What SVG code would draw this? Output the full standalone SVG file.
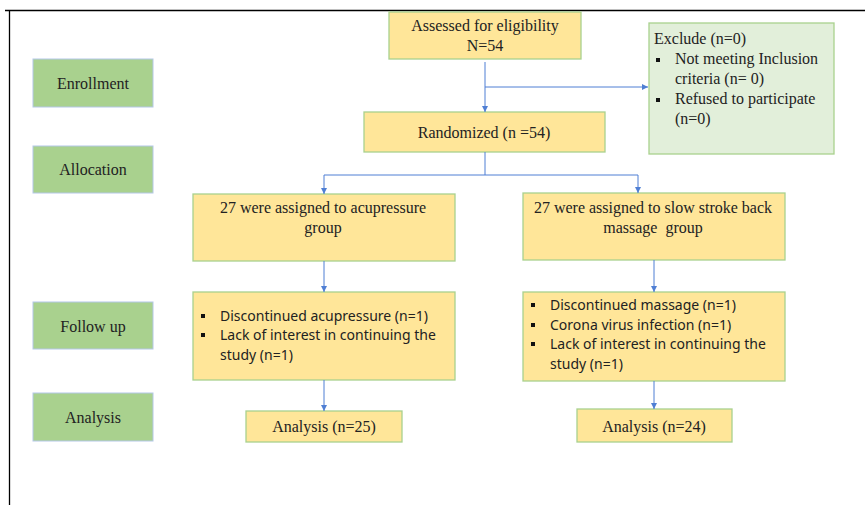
<svg xmlns="http://www.w3.org/2000/svg" width="865" height="505" viewBox="0 0 865 505">
<defs>
<style>
.stage rect{fill:#a9d18e;stroke:#b4c7e7;stroke-width:1}
.box rect{fill:#ffe699;stroke:#a9d18e;stroke-width:1.3}
.ex rect{fill:#e2efda;stroke:#a9d18e;stroke-width:1.3}
g rect.b{fill:#111;stroke:none}
.t{font-family:"Liberation Serif","Times New Roman",serif;font-size:16px;fill:#222}
.c{text-anchor:middle}
.s{font-family:"Noto Sans","Liberation Sans",sans-serif;font-size:14px;fill:#222}
.conn path{fill:none;stroke:#4f7fd4;stroke-width:1}
</style>
<marker id="ah" viewBox="0 0 6 6" refX="6" refY="3" markerWidth="6" markerHeight="6" orient="auto" markerUnits="userSpaceOnUse">
<path d="M0,0 L6,3 L0,6 Z" fill="#4f7fd4"/>
</marker>
</defs>
<rect width="865" height="505" fill="#fff"/>
<path d="M5,10.5 H865 M9.5,10 V505" stroke="#000" stroke-width="1.3" fill="none"/>

<g id="enrollment" class="stage"><rect x="33" y="59" width="120" height="48"/><text class="t c" x="93" y="89">Enrollment</text></g>
<g id="allocation" class="stage"><rect x="33" y="146" width="120" height="47"/><text class="t c" x="93" y="175">Allocation</text></g>
<g id="followup" class="stage"><rect x="33" y="302" width="120" height="47"/><text class="t c" x="93" y="332">Follow up</text></g>
<g id="analysis" class="stage"><rect x="33" y="393" width="120" height="48"/><text class="t c" x="93" y="423">Analysis</text></g>

<g id="assessed" class="box"><rect x="389" y="12" width="192" height="47"/>
<text class="t c" x="485" y="31">Assessed for eligibility</text>
<text class="t c" x="485" y="51">N=54</text></g>

<g id="exclude" class="ex"><rect x="649" y="23" width="185" height="131"/>
<text class="t" x="654" y="44">Exclude (n=0)</text>
<rect class="b" x="656" y="58" width="4" height="4"/>
<text class="t" x="675" y="64">Not meeting Inclusion</text>
<text class="t" x="675" y="84">criteria (n= 0)</text>
<rect class="b" x="656" y="98" width="4" height="4"/>
<text class="t" x="675" y="104">Refused to participate</text>
<text class="t" x="675" y="124">(n=0)</text></g>

<g id="randomized" class="box"><rect x="364" y="112" width="241" height="40"/>
<text class="t c" x="484" y="138">Randomized (n =54)</text></g>

<g id="acu" class="box"><rect x="193" y="194" width="262" height="67"/>
<text class="t c" x="323" y="213">27 were assigned to acupressure</text>
<text class="t c" x="323" y="233">group</text></g>

<g id="massage" class="box"><rect x="523" y="193" width="262" height="67"/>
<text class="t c" x="653" y="213">27 were assigned to slow stroke back</text>
<text class="t c" x="653" y="233" xml:space="preserve">massage  group</text></g>

<g id="acu-follow" class="box"><rect x="193" y="292" width="262" height="88"/>
<rect class="b" x="201" y="314" width="4" height="4"/>
<text class="s" x="220" y="321">Discontinued acupressure (n=1)</text>
<rect class="b" x="201" y="333" width="4" height="4"/>
<text class="s" x="220" y="340">Lack of interest in continuing the</text>
<text class="s" x="220" y="360">study (n=1)</text></g>

<g id="massage-follow" class="box"><rect x="523" y="292" width="262" height="89"/>
<rect class="b" x="531" y="303" width="4" height="4"/>
<text class="s" x="550" y="310">Discontinued massage (n=1)</text>
<rect class="b" x="531" y="323" width="4" height="4"/>
<text class="s" x="550" y="330">Corona virus infection (n=1)</text>
<rect class="b" x="531" y="342" width="4" height="4"/>
<text class="s" x="550" y="349">Lack of interest in continuing the</text>
<text class="s" x="550" y="369">study (n=1)</text></g>

<g id="analysis25" class="box"><rect x="246" y="411" width="156" height="31"/>
<text class="t c" x="324" y="432">Analysis (n=25)</text></g>

<g id="analysis24" class="box"><rect x="577" y="409" width="155" height="33"/>
<text class="t c" x="654" y="432">Analysis (n=24)</text></g>

<g id="connectors" class="conn">
<path d="M485,62 V112" marker-end="url(#ah)"/>
<path d="M485,87 H648" marker-end="url(#ah)"/>
<path d="M485,152 V175 M324,175 H638"/>
<path d="M324,175 V194" marker-end="url(#ah)"/>
<path d="M638,175 V193" marker-end="url(#ah)"/>
<path d="M324,261 V292" marker-end="url(#ah)"/>
<path d="M654,260 V292" marker-end="url(#ah)"/>
<path d="M324,380 V411" marker-end="url(#ah)"/>
<path d="M654,381 V409" marker-end="url(#ah)"/>
</g>
</svg>
